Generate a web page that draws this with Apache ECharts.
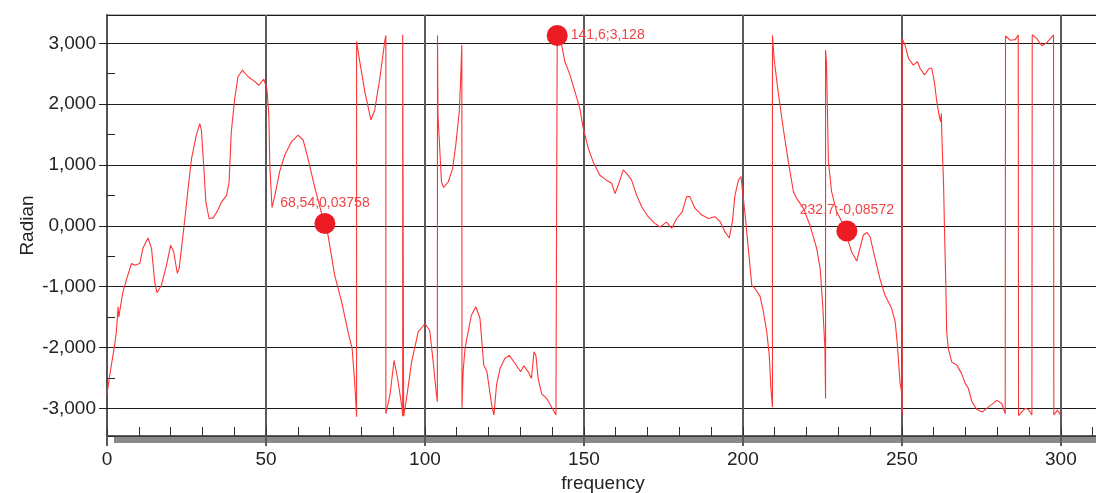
<!DOCTYPE html>
<html>
<head>
<meta charset="utf-8">
<script src="https://cdn.jsdelivr.net/npm/echarts@6/dist/echarts.min.js"></script>
<style>
html,body{margin:0;padding:0;background:#ffffff;}
#chart{width:1096px;height:493px;}
</style>
</head>
<body>
<div id="chart"></div>
<script>
// ---- data (frequency, phase in radians) ----
const freq = [
  0, 0.85, 2.4, 2.95, 3.5, 3.7, 5.0, 6.1, 7.7, 8.7, 10.3, 11.3, 12.9, 14.0, 15.0, 15.7, 17.1, 18.7, 20.0, 21.0,
  22.1, 22.7, 24.4, 25.5, 26.6, 28.1, 29.2, 29.7, 30.4, 31.1, 32.1, 33.4, 34.9, 36.0, 37.6, 38.4, 39.1, 40.2, 41.2, 42.6,
  44.4, 46.5, 47.8, 49.3, 49.8, 50.3, 50.9, 51.2, 51.9, 52.8, 54.3, 55.9, 58.0, 60.1, 61.7, 63.2, 65.4, 67.5, 68.54, 69.5,
  71.6, 73.8, 75.8, 77.1, 77.9, 78.5, 78.5, 79.5, 81.1, 83.0, 84.2, 85.8, 87.4, 87.7, 87.7, 89.0, 90.3, 91.4, 92.8, 93.0,
  93.0, 93.3, 94.2, 95.8, 97.9, 100.0, 101.5, 102.6, 103.4, 103.9, 103.95, 104.1, 105.2, 105.9, 107.3, 108.7, 109.7, 110.8, 111.2, 111.6,
  111.65, 112.0, 112.6, 113.6, 114.6, 116.0, 117.3, 118.5, 119.5, 121.0, 121.7, 122.5, 123.6, 125.1, 126.5, 128.3, 130.1, 131.1, 132.5, 133.5,
  134.3, 134.9, 135.6, 136.7, 138.3, 139.8, 141.2, 141.6, 141.6, 143.0, 144.0, 145.6, 147.2, 148.7, 149.8, 151.4, 152.9, 153.8, 155.0, 157.1,
  158.7, 159.8, 160.8, 162.4, 163.9, 165.0, 166.6, 168.2, 170.2, 172.3, 173.9, 176.0, 177.6, 179.2, 180.9, 182.3, 183.3, 184.9, 187.0, 189.1,
  191.2, 192.8, 194.4, 195.7, 196.7, 197.5, 198.6, 199.4, 199.9, 200.7, 201.7, 202.8, 203.8, 205.4, 206.4, 207.5, 208.3, 208.8, 209.3, 209.3,
  209.8, 211.1, 212.7, 214.3, 215.9, 216.9, 219.0, 221.1, 223.2, 224.3, 225.1, 225.8, 226.0, 226.0, 226.3, 226.9, 227.9, 229.5, 231.0, 232.7,
  233.2, 234.2, 235.8, 236.8, 237.9, 239.0, 240.0, 241.6, 243.1, 244.7, 246.8, 247.9, 248.6, 249.4, 250.0, 250.1, 250.1, 251.0, 252.1, 253.6,
  254.9, 255.7, 257.1, 258.6, 259.4, 260.2, 261.0, 261.7, 262.2, 262.4, 262.7, 263.1, 263.4, 263.8, 264.1, 264.6, 265.7, 267.3, 268.8, 269.9,
  270.9, 272.0, 273.6, 275.3, 277.2, 279.9, 281.4, 282.5, 282.6, 284.1, 285.7, 286.6, 286.7, 287.7, 288.8, 289.8, 290.9, 291.0, 292.4, 294.0,
  295.6, 297.7, 297.8, 298.9, 299.9
];
const phase = [
  -2.76, -2.46, -1.96, -1.74, -1.33, -1.50, -1.09, -0.89, -0.62, -0.65, -0.62, -0.37, -0.20, -0.37, -0.92, -1.10, -0.98, -0.65, -0.32, -0.43,
  -0.78, -0.70, 0.07, 0.61, 1.11, 1.49, 1.68, 1.57, 1.00, 0.39, 0.12, 0.13, 0.26, 0.39, 0.50, 0.72, 1.55, 2.10, 2.45, 2.56,
  2.45, 2.37, 2.31, 2.41, 2.38, 2.25, 1.82, 1.00, 0.30, 0.50, 0.89, 1.16, 1.38, 1.49, 1.41, 1.11, 0.62, 0.20, 0.03758, -0.15,
  -0.81, -1.25, -1.74, -2.02, -2.57, -3.14, 3.03, 2.70, 2.20, 1.74, 1.90, 2.42, 3.05, 3.13, -3.09, -2.78, -2.21, -2.51, -3.00, -3.13,
  3.14, -3.13, -2.84, -2.24, -1.74, -1.61, -1.72, -2.24, -2.67, -2.89, 3.13, 1.82, 0.72, 0.63, 0.72, 0.94, 1.33, 1.88, 2.37, 2.97,
  -2.99, -2.40, -2.02, -1.74, -1.47, -1.33, -1.52, -2.29, -2.40, -2.95, -3.11, -2.62, -2.35, -2.18, -2.13, -2.26, -2.40, -2.30, -2.40, -2.51,
  -2.07, -2.13, -2.51, -2.76, -2.84, -2.98, -3.11, -3.14, 3.128, 2.97, 2.70, 2.48, 2.20, 1.93, 1.60, 1.27, 1.05, 0.96, 0.83, 0.75,
  0.70, 0.53, 0.67, 0.92, 0.83, 0.75, 0.50, 0.31, 0.15, 0.04, -0.02, 0.06, -0.04, 0.12, 0.23, 0.48, 0.48, 0.29, 0.18, 0.12,
  0.15, 0.07, -0.10, -0.20, 0.07, 0.50, 0.75, 0.81, 0.79, 0.18, -0.37, -0.98, -1.03, -1.16, -1.40, -1.74, -2.13, -2.67, -2.98, 3.13,
  2.75, 2.20, 1.60, 1.05, 0.56, 0.45, 0.29, 0.01, -0.37, -0.70, -1.30, -2.02, -2.84, 2.89, 2.67, 1.05, 0.56, 0.23, 0.08, -0.08572,
  -0.26, -0.43, -0.58, -0.37, -0.15, -0.11, -0.18, -0.54, -0.87, -1.14, -1.36, -1.58, -1.96, -2.57, -2.76, -3.10, 3.08, 2.97, 2.75, 2.64,
  2.70, 2.59, 2.48, 2.59, 2.59, 2.37, 2.04, 1.82, 1.71, 1.85, 1.27, 0.72, -0.04, -0.92, -1.74, -2.02, -2.24, -2.29, -2.43, -2.59,
  -2.67, -2.89, -3.02, -3.06, -2.98, -2.87, -2.92, -3.09, 3.12, 3.05, 3.06, 3.14, -3.12, -3.06, -3.00, -3.02, -3.11, 3.14, 3.08, 2.96,
  3.01, 3.14, -3.11, -3.03, -3.11
];
const markerFreq = [68.54, 141.6, 232.7];
const markerPhase = [0.03758, 3.128, -0.08572];
const xLabelName = 'frequency';
const yLabelName = 'Radian';

// ---- presentation ----
const FONT = '"Liberation Sans", Arial, sans-serif';
const labelPlacement = ['top', 'right', 'top'];
const fmtComma = v => String(v).replace('.', ',');

const lineData = freq.map((f, i) => [f, phase[i]]);
const markerData = markerFreq.map((f, i) => ({
  value: [f, markerPhase[i]],
  label: { position: labelPlacement[i] }
}));

const chart = echarts.init(document.getElementById('chart'), null, { renderer: 'canvas' });
chart.setOption({
  animation: false,
  backgroundColor: '#ffffff',
  grid: {
    left: 107, top: 15, width: 992, height: 421,
    outerBoundsMode: 'none', containLabel: false,
    show: true, borderColor: '#6a6a6a', borderWidth: 1, backgroundColor: 'transparent'
  },
  graphic: [{
    type: 'rect', left: 114, top: 437, z: 0,
    shape: { width: 990, height: 6 },
    style: { fill: '#8a8a8a' }
  }],
  xAxis: [{
    type: 'value', min: 0, max: 312, interval: 50, position: 'bottom',
    name: xLabelName, nameLocation: 'middle', nameGap: 37,
    nameTextStyle: { fontFamily: FONT, fontSize: 19, color: '#222' },
    axisLine: { show: true, onZero: false, lineStyle: { color: '#444', width: 1.5 } },
    axisTick: { show: true, inside: false, length: 10, lineStyle: { color: '#5a5a5a', width: 2 } },
    axisLabel: { margin: 14, fontFamily: FONT, fontSize: 19, color: '#222', showMaxLabel: false },
    splitLine: { show: true, lineStyle: { color: '#5a5a5a', width: 2 } }
  }, {
    type: 'value', min: 0, max: 312, interval: 10, position: 'bottom', gridIndex: 0,
    axisLine: { show: false, onZero: false },
    axisTick: { show: true, inside: true, length: 9, lineStyle: { color: '#333', width: 1 } },
    axisLabel: { show: false },
    splitLine: { show: false }
  }],
  yAxis: [{
    type: 'value', min: -3.455, max: 3.465, splitNumber: 5,
    name: yLabelName, nameLocation: 'middle', nameGap: 70, nameMoveOverlap: false,
    nameTextStyle: { fontFamily: FONT, fontSize: 19, color: '#222' },
    axisLine: { show: true, onZero: false, lineStyle: { color: '#555', width: 2 } },
    axisTick: { show: true, inside: false, length: 8, lineStyle: { color: '#222', width: 1 } },
    axisLabel: {
      margin: 11, fontFamily: FONT, fontSize: 19, color: '#222',
      showMinLabel: false, showMaxLabel: false,
      formatter: v => v.toFixed(3).replace('.', ',')
    },
    splitLine: { show: true, lineStyle: { color: '#1a1a1a', width: 1 } }
  }, {
    type: 'value', min: -3.455, max: 3.465, splitNumber: 14, position: 'left', gridIndex: 0,
    axisLine: { show: false, onZero: false },
    axisTick: { show: true, inside: true, length: 8, lineStyle: { color: '#222', width: 1 } },
    axisLabel: { show: false },
    splitLine: { show: false }
  }],
  series: [{
    type: 'line',
    xAxisIndex: 0, yAxisIndex: 0,
    data: lineData,
    showSymbol: false,
    symbol: 'none',
    clip: true,
    lineStyle: { color: '#ff3535', width: 1.1 },
    z: 3
  }, {
    type: 'scatter',
    xAxisIndex: 0, yAxisIndex: 0,
    data: markerData,
    symbolSize: 21,
    itemStyle: { color: '#ed1c24', opacity: 1 },
    label: {
      show: true, distance: 3,
      fontFamily: FONT, fontSize: 14, color: '#f04545',
      formatter: p => fmtComma(p.value[0]) + ';' + fmtComma(p.value[1])
    },
    z: 5
  }]
});
</script>
</body>
</html>
